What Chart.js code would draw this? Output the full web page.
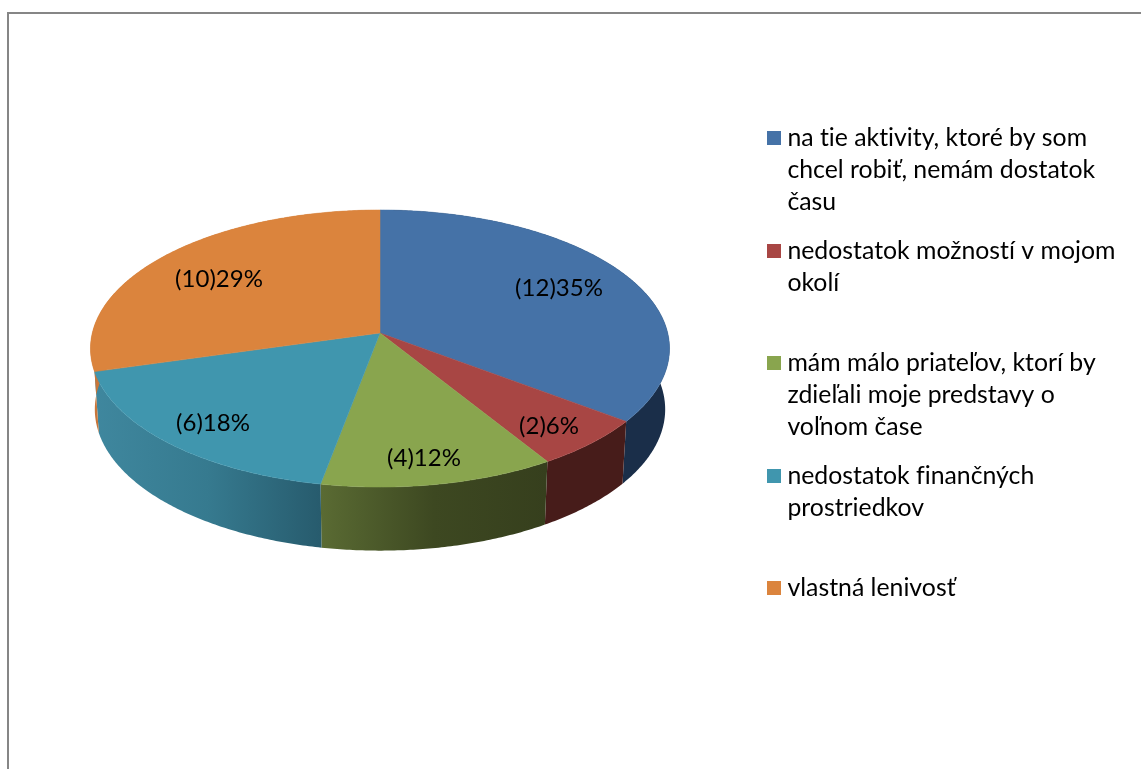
<!DOCTYPE html>
<html>
<head>
<meta charset="utf-8">
<style>
  html, body { margin: 0; background: #fff; overflow: hidden; }
  #frame { position: absolute; left: 7px; top: 12px; right: 0; bottom: 0; border-left: 2px solid #868686; border-top: 2px solid #868686; }
  canvas { position: absolute; left: 0; top: 0; }
</style>
</head>
<body>
<div id="frame"></div>
<canvas id="chart" width="1141" height="769"></canvas>
<script src="https://cdn.jsdelivr.net/npm/chart.js@4/dist/chart.umd.min.js"></script>
<script>
const categories = [
  ['na tie aktivity, ktoré by som', 'chcel robiť, nemám dostatok', 'času'],
  ['nedostatok možností v mojom', 'okolí', ''],
  ['mám málo priateľov, ktorí by', 'zdieľali moje predstavy o', 'voľnom čase'],
  ['nedostatok finančných', 'prostriedkov', ''],
  ['vlastná lenivosť']
];
const values = [12, 2, 4, 6, 10];
const sliceColors = ['#4572a7', '#a84644', '#89a54e', '#4096ae', '#db843d'];
// side wall shades, left to right
const wallColors = [
  ['#1a2e49', '#1a2e49'],
  ['#471c1a', '#471c1a'],
  ['#5a6b33', '#3d4821', '#363f1d'],
  ['#3f879e', '#367a8f', '#275b6d'],
  ['#c8763a', '#c8763a']
];
// where Excel put the data labels
const labelPositions = [[559, 288], [549, 426], [424, 458], [213, 423], [219, 279]];

const FONT = 'Lato';
const LEGEND_SIZE = 24.8;
const LABEL_SIZE = 24;

// perspective disc, fitted to the rim of the pie
const CX = 380, CY = 333, RX = 287.7, RY = 136.8, PERSP = -0.112;
const WALL_SX = 0.985, WALL_SY = 1.02, WALL_DROP = 60.5;

function project(angle, sx, sy, drop) {
  const u = Math.sin(angle), v = -Math.cos(angle);
  const w = 1 + PERSP * v;
  return [CX + sx * RX * u / w, CY + drop + sy * RY * v / w];
}

function rim(start, end, sx, sy, drop) {
  const pts = [];
  const steps = Math.max(2, Math.ceil((end - start) / 0.01));
  for (let i = 0; i <= steps; i++) {
    pts.push(project(start + (end - start) * i / steps, sx, sy, drop));
  }
  return pts;
}

function tracePoly(ctx, pts) {
  ctx.beginPath();
  pts.forEach((p, i) => i ? ctx.lineTo(p[0], p[1]) : ctx.moveTo(p[0], p[1]));
  ctx.closePath();
}

// legend swatch: 14px square on the right of a 20px image, the legend centres it on an 8px box
function swatch(color) {
  const c = document.createElement('canvas');
  c.width = 20;
  c.height = 14;
  const g = c.getContext('2d');
  g.fillStyle = color;
  g.fillRect(6, 0, 14, 14);
  return c;
}

const pie3d = {
  id: 'pie3d',
  afterLayout(chart) {
    const l = chart.legend;
    const w = l.right - l.left;
    l.left = 750.5;
    l.right = l.left + w;
    l.top = 109.5;
    l.bottom = 769;
    l.adjustHitBoxes();
  },
  beforeDraw(chart) {
    // keep "ti" and "fi" as separate letters, Lato would join them
    chart.ctx.letterSpacing = '0.01px';
  },
  beforeDatasetsDraw(chart) {
    const ctx = chart.ctx;
    const arcs = chart.getDatasetMeta(0).data;
    const total = values.reduce((a, b) => a + b, 0);
    const angles = arcs.map(a => [a.startAngle + Math.PI / 2, a.endAngle + Math.PI / 2]);

    // side walls
    angles.forEach(([s, e], i) => {
      const top = rim(s, e, 1, 1, 0);
      const bottom = rim(s, e, WALL_SX, WALL_SY, WALL_DROP).reverse();
      const xs = top.concat(bottom).map(p => p[0]);
      const grad = ctx.createLinearGradient(Math.min(...xs), 0, Math.max(...xs), 0);
      wallColors[i].forEach((c, k) => grad.addColorStop(k / (wallColors[i].length - 1), c));
      tracePoly(ctx, top.concat(bottom));
      ctx.fillStyle = grad;
      ctx.fill();
    });

    // top face
    angles.forEach(([s, e], i) => {
      tracePoly(ctx, [[CX, CY]].concat(rim(s, e, 1, 1, 0)));
      ctx.fillStyle = arcs[i].options.backgroundColor;
      ctx.strokeStyle = arcs[i].options.backgroundColor;
      ctx.lineWidth = 0.5;
      ctx.fill();
      ctx.stroke();
    });

    // data labels
    ctx.fillStyle = '#000';
    ctx.font = LABEL_SIZE + 'px ' + FONT;
    ctx.textAlign = 'center';
    ctx.textBaseline = 'middle';
    values.forEach((v, i) => {
      const text = '(' + v + ')' + Math.round(v / total * 100) + '%';
      ctx.fillText(text, labelPositions[i][0], labelPositions[i][1]);
    });
    return false;
  }
};

new Chart(document.getElementById('chart'), {
  type: 'pie',
  data: {
    labels: categories,
    datasets: [{ data: values, backgroundColor: sliceColors, borderWidth: 0 }]
  },
  plugins: [pie3d],
  options: {
    responsive: false,
    animation: false,
    plugins: {
      tooltip: { enabled: false },
      legend: {
        position: 'right',
        align: 'start',
        labels: {
          color: '#000',
          font: { family: FONT, size: LEGEND_SIZE, lineHeight: 32 / LEGEND_SIZE },
          padding: 16.5,
          usePointStyle: true,
          pointStyleWidth: 8,
          generateLabels() {
            return categories.map((text, i) => ({
              text: text,
              pointStyle: swatch(sliceColors[i]),
              fillStyle: sliceColors[i],
              strokeStyle: sliceColors[i],
              lineWidth: 0,
              index: i
            }));
          }
        }
      }
    }
  }
});
</script>
</body>
</html>
